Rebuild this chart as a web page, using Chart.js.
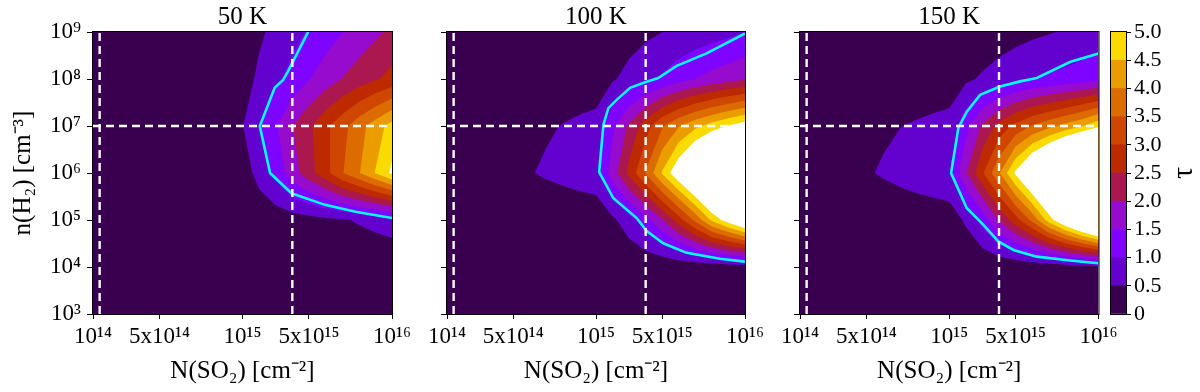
<!DOCTYPE html>
<html><head><meta charset="utf-8">
<script src="https://cdn.jsdelivr.net/npm/chart.js@4.4.1/dist/chart.umd.min.js"></script>
<style>
html,body{margin:0;padding:0;background:#fff;width:1200px;height:392px;overflow:hidden;position:relative}
canvas{position:absolute;top:0}
</style></head><body>
<canvas id="p1" width="420" height="392" style="left:0px"></canvas>
<canvas id="p2" width="350" height="392" style="left:420px"></canvas>
<canvas id="p3" width="360" height="392" style="left:770px"></canvas>
<canvas id="cb" width="95" height="392" style="left:1105px"></canvas>
<script>
// ---------------- data ----------------
const nSO2 = [1e14,2e14,3e14,4e14,5e14,6e14,7e14,8e14,9e14,1e15,2e15,3e15,4e15,5e15,6e15,7e15,8e15,9e15,1e16];
const nH2 = [1e9,1e8,1e7,1e6,1e5,1e4,1e3];
const xTickValues = [1e14,5e14,1e15,5e15,1e16];
const xTickLabels = ['10¹⁴','5x10¹⁴','10¹⁵','5x10¹⁵','10¹⁶'];
const yTickValues = [1e3,1e4,1e5,1e6,1e7,1e8,1e9];
const yTickLabels = ['10³','10⁴','10⁵','10⁶','10⁷','10⁸','10⁹'];
const levels = [0,0.5,1.0,1.5,2.0,2.5,3.0,3.5,4.0,4.5,5.0];
const cbLabels = ['0','0.5','1.0','1.5','2.0','2.5','3.0','3.5','4.0','4.5','5.0'];
const cbTitle = 'τ';
const titles = ['50 K','100 K','150 K'];
const refNSO2 = [1.4e14, 4e15];
const refNH2 = 1e7;

// tau on grid: rows follow nH2, columns follow nSO2
const tau50K = [
 [0.02,0.04,0.06,0.08,0.10,0.12,0.14,0.16,0.18,0.20,0.42,0.63,0.84,1.05,1.27,1.48,1.69,1.90,2.12],
 [0.03,0.06,0.08,0.11,0.14,0.17,0.20,0.22,0.25,0.28,0.60,0.88,1.17,1.48,1.75,2.01,2.24,2.45,2.65],
 [0.05,0.10,0.14,0.19,0.24,0.29,0.34,0.38,0.43,0.48,0.98,1.44,1.98,2.40,2.88,3.33,3.80,4.25,4.70],
 [0.02,0.04,0.07,0.09,0.11,0.13,0.15,0.18,0.20,0.22,0.69,1.17,1.77,2.30,2.83,3.46,3.96,4.52,5.10],
 [0.01,0.01,0.02,0.03,0.03,0.04,0.05,0.05,0.06,0.07,0.13,0.20,0.26,0.32,0.39,0.45,0.55,0.65,0.75],
 [0.00,0.00,0.00,0.00,0.00,0.01,0.01,0.01,0.01,0.01,0.02,0.03,0.04,0.05,0.06,0.07,0.08,0.09,0.10],
 [0.00,0.00,0.00,0.00,0.00,0.00,0.00,0.00,0.00,0.00,0.00,0.00,0.01,0.01,0.01,0.01,0.01,0.01,0.01]
];
const tau100K = [
 [0.01,0.02,0.03,0.04,0.05,0.06,0.07,0.08,0.09,0.10,0.20,0.30,0.40,0.50,0.60,0.70,0.79,0.88,0.97],
 [0.02,0.05,0.07,0.09,0.12,0.14,0.16,0.18,0.21,0.23,0.45,0.65,0.86,1.07,1.30,1.50,1.66,1.81,1.95],
 [0.06,0.12,0.19,0.25,0.31,0.37,0.44,0.52,0.59,0.66,1.39,2.10,2.78,3.45,3.97,4.38,4.72,5.03,5.30],
 [0.08,0.15,0.23,0.30,0.38,0.47,0.57,0.66,0.76,0.86,1.75,2.64,3.54,4.55,5.50,6.40,7.30,8.20,9.00],
 [0.01,0.02,0.03,0.04,0.05,0.05,0.06,0.07,0.08,0.09,0.40,0.79,1.31,1.96,2.77,3.63,4.60,5.30,6.00],
 [0.00,0.00,0.00,0.00,0.00,0.00,0.00,0.01,0.01,0.01,0.03,0.05,0.07,0.09,0.12,0.15,0.18,0.22,0.26],
 [0.00,0.00,0.00,0.00,0.00,0.00,0.00,0.00,0.00,0.00,0.00,0.01,0.01,0.01,0.01,0.01,0.01,0.01,0.01]
];
const tau150K = [
 [0.01,0.01,0.02,0.03,0.03,0.04,0.05,0.05,0.06,0.07,0.13,0.20,0.27,0.33,0.40,0.47,0.54,0.62,0.71],
 [0.02,0.04,0.07,0.09,0.11,0.13,0.15,0.18,0.20,0.22,0.42,0.56,0.70,0.85,0.99,1.07,1.15,1.25,1.35],
 [0.07,0.14,0.21,0.28,0.35,0.42,0.49,0.55,0.61,0.67,1.32,2.09,2.67,3.14,3.54,3.85,4.16,4.47,4.90],
 [0.09,0.18,0.27,0.36,0.45,0.55,0.65,0.75,0.85,0.95,1.95,2.93,3.94,5.10,6.10,7.00,8.00,9.00,10.0],
 [0.02,0.04,0.06,0.08,0.10,0.12,0.14,0.16,0.18,0.21,0.58,1.19,2.03,2.78,3.63,4.72,5.70,6.60,7.50],
 [0.00,0.00,0.00,0.00,0.00,0.00,0.00,0.00,0.00,0.00,0.02,0.04,0.06,0.10,0.14,0.19,0.25,0.32,0.40],
 [0.00,0.00,0.00,0.00,0.00,0.00,0.00,0.00,0.00,0.00,0.00,0.00,0.01,0.01,0.01,0.01,0.01,0.01,0.01]
];

// cyan contour (tau = 1)
const cyan50K_N  = [4.95e15,3.74e15,3.44e15,2.94e15,2.04e15,2.66e15,3.95e15,5.97e15,7.8e15,1e16];
const cyan50K_H  = [1e9,1.45e8,9.5e7,6.5e7,1e7,1e6,3.7e5,2.1e5,1.5e5,1.1e5];
const cyan100K_N = [1e16,7.68e15,5.87e15,4.76e15,3.96e15,3.06e15,2.25e15,1.75e15,1.45e15,1.19e15,2.05e15,3.46e15,4.06e15,5.06e15,6.48e15,8.48e15,1e16];
const cyan100K_H = [9.3e8,3.5e8,1.9e8,1.05e8,8.5e7,6.5e7,3.6e7,2.4e7,1.07e7,1.05e6,2.9e5,1.1e5,5.8e4,3.2e4,2.0e4,1.5e4,1.3e4];
const cyan150K_N = [1e16,8.28e15,6.28e15,5.27e15,4.06e15,2.86e15,2.05e15,1.55e15,1.11e15,2.05e15,3.06e15,3.96e15,4.87e15,6.28e15,8.28e15,1e16];
const cyan150K_H = [3.5e8,2.3e8,1.05e8,8.9e7,6.9e7,4.6e7,2.0e7,9.1e6,1.0e6,1.8e5,7.9e4,3.5e4,2.3e4,1.66e4,1.38e4,1.2e4];

// ---------------- style ----------------
const bandColors = ['rgb(57,0,79)','rgb(99,1,206)','rgb(127,4,255)','rgb(151,11,206)','rgb(171,23,79)',
                    'rgb(189,42,0)','rgb(206,70,0)','rgb(221,108,0)','rgb(235,157,0)','rgb(249,219,0)'];
const FONT = "'Liberation Serif','Times New Roman',serif";
Chart.defaults.font.family = FONT;
Chart.defaults.color = '#000';

// x axis of the figure: each decade is linear in N
function nToIdx(N){
  const d = Math.floor(Math.log10(N) + 1e-9);
  return (d - 14) * 9 + (N / Math.pow(10, d) - 1);
}

const contourPlugin = {
  id: 'contourFill',
  beforeDatasetsDraw(chart) {
    const ds = chart.data.datasets.find(d => d.grid);
    if (!ds) return;
    const {ctx, chartArea: a, scales: {x, y}} = chart;
    const g = ds.grid;
    const px = g.cols.map(v => x.getPixelForValue(nToIdx(v)));
    const py = g.rows.map(v => y.getPixelForValue(v));
    ctx.save();
    ctx.beginPath(); ctx.rect(a.left, a.top, a.right - a.left, a.bottom - a.top); ctx.clip();
    for (let k = 0; k < levels.length; k++) {
      const L = levels[k];
      ctx.beginPath();
      for (let j = 0; j < py.length - 1; j++) {
        for (let i = 0; i < px.length - 1; i++) {
          const c = [[px[i],py[j],g.z[j][i]],[px[i+1],py[j],g.z[j][i+1]],
                     [px[i+1],py[j+1],g.z[j+1][i+1]],[px[i],py[j+1],g.z[j+1][i]]];
          const pts = [];
          for (let e = 0; e < 4; e++) {
            const A = c[e], B = c[(e + 1) % 4];
            const ia = A[2] >= L, ib = B[2] >= L;
            if (ia) pts.push([A[0], A[1]]);
            if (ia !== ib) {
              const t = (L - A[2]) / (B[2] - A[2]);
              pts.push([A[0] + t * (B[0] - A[0]), A[1] + t * (B[1] - A[1])]);
            }
          }
          if (pts.length < 3) continue;
          ctx.moveTo(pts[0][0], pts[0][1]);
          for (let p = 1; p < pts.length; p++) ctx.lineTo(pts[p][0], pts[p][1]);
          ctx.closePath();
        }
      }
      ctx.fillStyle = k < bandColors.length ? bandColors[k] : '#ffffff';
      ctx.fill('nonzero');
    }
    ctx.restore();
  }
};

const framePlugin = {
  id: 'frame',
  afterDatasetsDraw(chart) {
    const {ctx, chartArea: a} = chart;
    ctx.save();
    ctx.strokeStyle = '#000'; ctx.lineWidth = 1;
    ctx.strokeRect(a.left - 0.5, a.top - 0.5, a.right - a.left + 1, a.bottom - a.top + 1);
    ctx.restore();
  }
};

// colorbar label drawn reading bottom-to-top, as in the figure
const cbTitlePlugin = {
  id: 'cbTitle',
  afterDraw(chart) {
    const {ctx, chartArea: a} = chart;
    ctx.save();
    ctx.translate(a.right + 58, (a.top + a.bottom) / 2);
    ctx.rotate(-Math.PI / 2);
    ctx.font = '30px ' + FONT;
    ctx.fillStyle = '#000';
    ctx.textAlign = 'center';
    ctx.textBaseline = 'middle';
    ctx.fillText(cbTitle, 0, 0);
    ctx.restore();
  }
};

function dashed(points) {
  return {data: points, borderColor: '#ffffff', borderWidth: 2.4, borderDash: [8, 5],
          pointRadius: 0, fill: false, tension: 0};
}

function makePanel(id, title, z, cN, cH, o) {
  const datasets = [
    dashed([{x: nToIdx(nSO2[0]), y: refNH2}, {x: nToIdx(nSO2[nSO2.length - 1]), y: refNH2}]),
    ...refNSO2.map(n => dashed([{x: nToIdx(n), y: nH2[nH2.length - 1]}, {x: nToIdx(n), y: nH2[0]}])),
    {data: cN.map((n, i) => ({x: nToIdx(n), y: cH[i]})), borderColor: '#00ffff', borderWidth: 2.6,
     pointRadius: 0, fill: false, tension: 0},
    {data: [], grid: {cols: nSO2, rows: nH2, z: z}, pointRadius: 0, showLine: false}
  ];
  return new Chart(document.getElementById(id), {
    type: 'line',
    data: {datasets},
    plugins: [contourPlugin, framePlugin],
    options: {
      responsive: false, animation: false, devicePixelRatio: 1,
      layout: {padding: {left: 0, right: o.padRight, top: 0, bottom: 0}, autoPadding: false},
      plugins: {
        legend: {display: false}, tooltip: {enabled: false},
        title: {display: true, text: title, fullSize: false, color: '#000',
                font: {family: FONT, size: 25, weight: 'normal', lineHeight: 1},
                padding: {top: 5, bottom: 2}}
      },
      scales: {
        x: {
          type: 'linear', min: 0, max: 18,
          afterBuildTicks: s => { s.ticks = xTickValues.map(v => ({value: nToIdx(v)})); },
          afterFit: s => { s.height = 78; },
          grid: {display: true, drawOnChartArea: false, drawTicks: true, tickLength: 5, color: '#000'},
          border: {display: true, color: '#000'},
          ticks: {autoSkip: false, maxRotation: 0, padding: 4, color: '#000',
                  font: {family: FONT, size: 23}, callback: (v, i) => xTickLabels[i]},
          title: {display: true, text: 'N(SO₂) [cm⁻²]', color: '#000',
                  font: {family: FONT, size: 25, lineHeight: 1.2}, padding: {top: 0, bottom: 6}}
        },
        y: {
          type: 'logarithmic', min: 1e3, max: 1e9,
          afterBuildTicks: s => { s.ticks = yTickValues.map(v => ({value: v})); },
          afterFit: s => { s.width = o.yWidth; },
          grid: {display: true, drawOnChartArea: false, drawTicks: true, tickLength: 6, color: '#000'},
          border: {display: true, color: '#000'},
          ticks: {display: o.yLabels, autoSkip: false, padding: 6, color: '#000',
                  font: {family: FONT, size: 23}, callback: (v, i) => yTickLabels[i]},
          title: {display: o.yLabels, text: 'n(H₂) [cm⁻³]', color: '#000',
                  font: {family: FONT, size: 25, lineHeight: 1.2}, padding: {top: 8, bottom: 0}}
        }
      }
    }
  });
}

makePanel('p1', titles[0], tau50K, cyan50K_N, cyan50K_H, {yWidth: 93, padRight: 28, yLabels: true});
makePanel('p2', titles[1], tau100K, cyan100K_N, cyan100K_H, {yWidth: 27, padRight: 25, yLabels: false});
makePanel('p3', titles[2], tau150K, cyan150K_N, cyan150K_H, {yWidth: 30, padRight: 31.5, yLabels: false});

// colorbar
new Chart(document.getElementById('cb'), {
  type: 'bar',
  data: {labels: [''], datasets: bandColors.map((c, k) => ({
    data: [levels[k + 1] - levels[k]], backgroundColor: c, borderWidth: 0,
    barPercentage: 1, categoryPercentage: 1}))},
  plugins: [framePlugin, cbTitlePlugin],
  options: {
    responsive: false, animation: false, devicePixelRatio: 1,
    layout: {padding: {left: 6, right: 0, top: 32, bottom: 78}, autoPadding: false},
    plugins: {legend: {display: false}, tooltip: {enabled: false}},
    scales: {
      x: {display: false, stacked: true},
      y: {
        position: 'right', stacked: true, min: 0, max: 5,
        afterBuildTicks: s => { s.ticks = levels.map(v => ({value: v})); },
        afterFit: s => { s.width = 74; },
        grid: {display: true, drawOnChartArea: false, drawTicks: true, tickLength: 5, color: '#000'},
        border: {display: true, color: '#000'},
        ticks: {autoSkip: false, padding: 3, color: '#000', font: {family: FONT, size: 22},
                callback: (v, i) => cbLabels[i]},
        title: {display: false}
      }
    }
  }
});
</script>
</body></html>
